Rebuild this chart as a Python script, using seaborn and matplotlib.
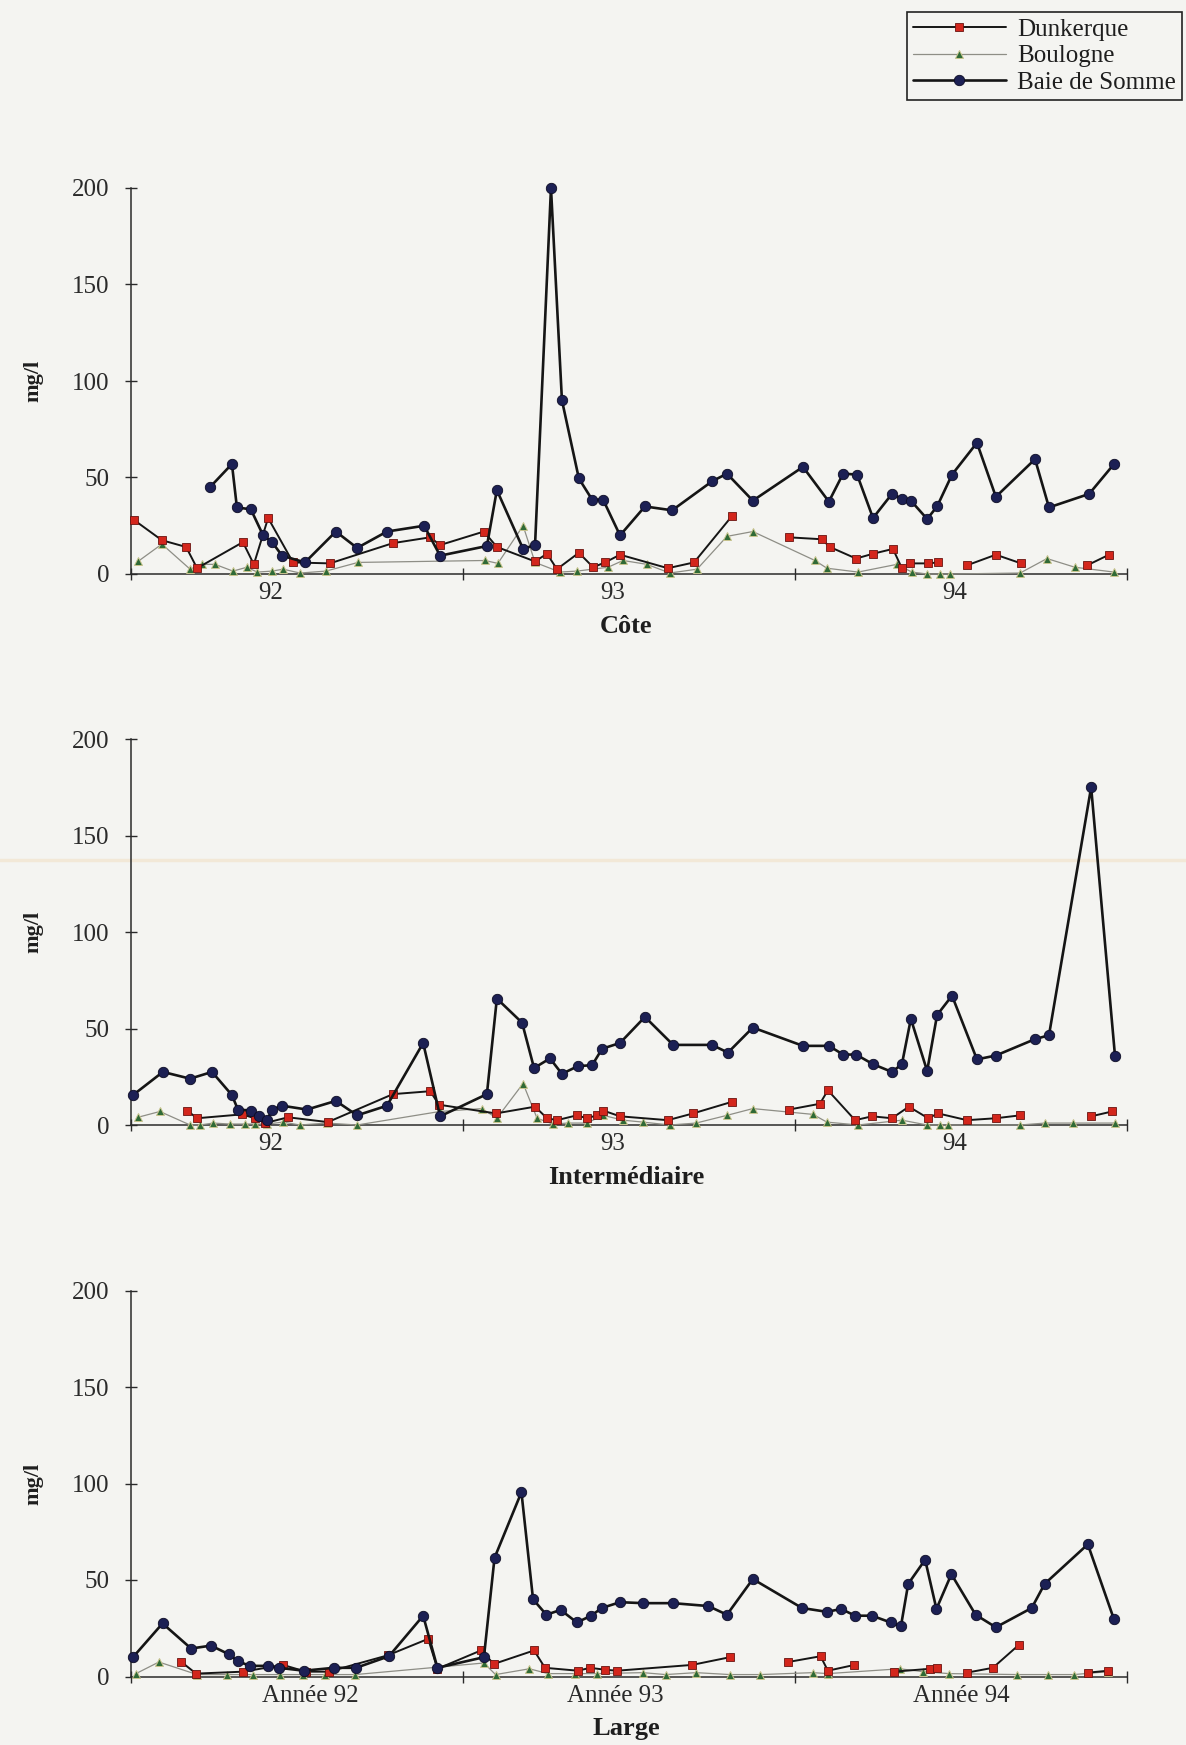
import numpy as np
import pandas as pd
import matplotlib
matplotlib.use("Agg")
import matplotlib.pyplot as plt
from matplotlib.lines import Line2D
import seaborn as sns

# ---------------------------------------------------------------------------
# Suspended matter (mg/l) — sampling dates as decimal years (92.5 = mid 1992)
# ---------------------------------------------------------------------------
SERIES_NAMES = ["Dunkerque", "Boulogne", "Baie de Somme"]
PANEL_TITLES = ["Côte", "Intermédiaire", "Large"]
YEAR_LABELS_SHORT = ["92", "93", "94"]
YEAR_LABELS_LONG = ["Année 92", "Année 93", "Année 94"]
Y_TICKS = [0, 50, 100, 150, 200]

# --- Côte ---
cote_baie_t = [92.238, 92.304, 92.319, 92.361, 92.398, 92.425, 92.455, 92.524, 92.617, 92.681,
               92.771, 92.883, 92.931, 93.072, 93.102, 93.181, 93.217, 93.265, 93.298, 93.349,
               93.389, 93.422, 93.473, 93.548, 93.630, 93.750, 93.795, 93.873, 94.024, 94.102,
               94.145, 94.187, 94.235, 94.292, 94.322, 94.349, 94.398, 94.428, 94.473, 94.548,
               94.605, 94.723, 94.765, 94.886, 94.961]
cote_baie_v = [45, 57, 34.5, 33.5, 20, 16.5, 9.5, 6, 22, 13.5,
               22, 25, 9.5, 14.5, 43.5, 13, 15, 200, 90, 49.5,
               38.5, 38.5, 20, 35, 33, 48, 52, 38, 55.5, 37.5,
               52, 51.5, 29, 41.5, 39, 38, 28.5, 35, 51.5, 68,
               40, 59.5, 34.5, 41.5, 57]

cote_dk_t = [92.009, 92.093, 92.166, 92.199, 92.337, 92.370, 92.413, 92.488, 92.599, 92.789,
             92.901, 92.931, 93.063, 93.102, 93.217, 93.253, 93.283, 93.349, 93.392, 93.428,
             93.473, 93.617, 93.696, 93.810, np.nan, 93.982, 94.081, 94.105, 94.184, 94.235,
             94.295, 94.322, 94.346, 94.401, 94.431, np.nan, 94.518, 94.605, 94.681, np.nan,
             94.880, 94.946]
cote_dk_v = [28, 17.5, 14, 3, 16.5, 5, 29, 6, 5.5, 16,
             19, 15, 22, 14, 6.5, 10.5, 2.5, 11, 3.5, 6,
             10, 3, 6, 30, np.nan, 19, 18, 14, 8, 10.5,
             13, 3, 5.5, 5.5, 6, np.nan, 4.5, 10, 5.5, np.nan,
             4.5, 10]

cote_boul_t = [92.021, 92.093, 92.178, 92.214, 92.253, 92.307, 92.349, 92.380, 92.425, 92.458,
               92.509, 92.587, 92.684, 93.066, 93.105, 93.181, 93.217, 93.292, 93.343, 93.437,
               93.482, 93.554, 93.623, 93.705, 93.795, 93.873, 94.060, 94.096, 94.190, 94.307,
               94.352, 94.398, 94.437, 94.467, 94.678, 94.759, 94.843, 94.961]
cote_boul_v = [6.5, 15.5, 2.5, 5, 5, 1.5, 3.5, 1, 1.5, 2.5,
               0.5, 1.5, 6, 7, 5.5, 25, 6, 1, 1.5, 3.5,
               7, 5, 0.5, 2.5, 19.5, 22, 7, 3, 1, 5,
               1, 0, 0, 0, 0.5, 8, 3.5, 1]

# --- Intermédiaire ---
inter_baie_t = [92.006, 92.096, 92.178, 92.244, 92.304, 92.322, 92.361, 92.386, 92.410, 92.425,
                92.455, 92.530, 92.617, 92.681, 92.771, 92.880, 92.931, 93.072, 93.102, 93.178,
                93.214, 93.262, 93.298, 93.346, 93.389, 93.419, 93.473, 93.548, 93.633, 93.750,
                93.798, 93.873, 94.024, 94.102, 94.145, 94.184, 94.235, 94.292, 94.322, 94.349,
                94.398, 94.428, 94.473, 94.548, 94.605, 94.723, 94.765, 94.892, 94.964]
inter_baie_v = [15.5, 27.5, 24, 27.5, 15.5, 8, 7.5, 4.5, 2.5, 8,
                10, 8, 12.5, 5, 10, 42.5, 4.5, 16, 65.5, 53,
                29.5, 34.5, 26.5, 30.5, 31, 39.5, 42.5, 56, 41.5, 41.5,
                37.5, 50.5, 41, 41, 36.5, 36.5, 31.5, 27.5, 31.5, 55,
                28, 57, 67, 34, 36, 44.5, 46.5, 175, 35.5]

inter_dk_t = [92.169, 92.199, 92.334, 92.373, 92.404, 92.473, 92.593, 92.789, 92.901, 92.928,
              93.099, 93.217, 93.253, 93.283, 93.343, 93.373, 93.404, 93.422, 93.473, 93.617,
              93.693, 93.810, np.nan, 93.982, 94.075, 94.099, 94.181, 94.232, 94.292, 94.343,
              94.401, 94.431, 94.518, 94.605, 94.678, np.nan, 94.892, 94.955]
inter_dk_v = [7.5, 3.5, 5.5, 3.5, 1, 4, 1.5, 16, 17.5, 10.5,
              6, 9.5, 3.5, 2.5, 5, 3.5, 5, 7.5, 4.5, 2.5,
              6, 12, np.nan, 8, 11, 18, 2.5, 4.5, 3.5, 9.5,
              3.5, 6, 2.5, 3.5, 5, np.nan, 4.5, 7]

inter_boul_t = [92.021, 92.087, 92.178, 92.208, 92.247, 92.298, 92.343, 92.373, 92.410, 92.458,
                92.509, 92.590, 92.681, 92.930, 93.057, 93.102, 93.181, 93.223, 93.271, 93.316,
                93.373, 93.422, 93.482, 93.542, 93.623, 93.702, 93.795, 93.873, 94.054, 94.096,
                94.190, 94.322, 94.398, 94.437, 94.461, 94.678, 94.753, 94.837, 94.964]
inter_boul_v = [4, 7, 0, 0, 1, 0.5, 0.5, 0.5, 0.5, 1.5,
                0, 1, 0, 7, 8.5, 3.5, 21.5, 3.5, 0.5, 1,
                1, 5, 2.5, 1.5, 0, 1, 5, 8.5, 5.5, 1.5,
                0, 2.5, 0, 0, 0, 0, 1, 1, 1]

# --- Large ---
large_baie_t = [92.006, 92.095, 92.181, 92.241, 92.295, 92.321, 92.358, 92.413, 92.446, 92.521,
                92.611, 92.678, 92.777, 92.880, 92.923, 93.063, 93.095, 93.176, 93.211, 93.251,
                93.294, 93.343, 93.386, 93.418, 93.473, 93.542, 93.633, 93.739, 93.795, 93.873,
                94.021, 94.096, 94.139, 94.181, 94.232, 94.288, 94.319, 94.341, 94.392, 94.426,
                94.471, 94.544, 94.605, 94.713, 94.752, 94.882, 94.960]
large_baie_v = [10, 27.5, 14.5, 16, 11.5, 8, 5.5, 5.5, 4.5, 3,
                4.5, 4.5, 10.5, 31.5, 4.5, 10, 61.5, 95.5, 40, 32,
                34.5, 28, 31.5, 35.5, 38.5, 38, 38, 36.5, 32, 50.5,
                35.5, 33.5, 35, 31.5, 31.5, 28, 26, 48, 60.5, 35,
                53, 32, 25.5, 35.5, 48, 68.5, 30]

large_dk_t = [92.152, 92.196, 92.337, 92.458, 92.527, 92.596, 92.774, 92.895, 92.923, 93.054,
              93.093, 93.214, 93.247, 93.346, 93.383, 93.428, 93.464, 93.690, 93.804, np.nan,
              93.979, 94.077, 94.099, 94.179, np.nan, 94.298, 94.407, 94.428, np.nan, 94.518,
              94.596, 94.675, np.nan, 94.883, 94.943]
large_dk_v = [7.5, 1.5, 2.5, 6, 2.5, 2.5, 11, 19.5, 4, 13.5,
              6.5, 13.5, 4.5, 3, 4.5, 3.5, 3, 6, 10, np.nan,
              7.5, 10.5, 3, 6, np.nan, 2.5, 4, 4.5, np.nan, 2,
              4.5, 16.5, np.nan, 2, 3]

large_boul_t = [92.015, 92.084, 92.199, 92.289, 92.367, 92.449, 92.518, 92.584, 92.676, 93.063,
                93.098, 93.200, 93.256, 93.337, 93.405, 93.542, 93.610, 93.702, 93.804, 93.895,
                94.054, 94.099, 94.316, 94.386, 94.464, 94.669, 94.762, 94.840, 94.943]
large_boul_v = [1.5, 7.5, 1, 1, 1, 1, 1, 1, 1, 7,
                1, 4, 1.5, 1.5, 1.5, 2, 1, 2, 1, 1,
                2, 1.5, 4, 2.5, 1.5, 1, 1, 1, 2.5]

# x positions of the year captions under each axis
year_label_pos_short = [92.42, 93.45, 94.48]
year_label_pos_long = [92.54, 93.46, 94.50]

# ---------------------------------------------------------------------------
# Styling
# ---------------------------------------------------------------------------
sns.set_theme(style="ticks")
plt.rcParams["font.family"] = ["Liberation Serif", "DejaVu Serif"]
plt.rcParams["text.color"] = "#1e1e1e"
plt.rcParams["axes.edgecolor"] = "#2a2a2a"
plt.rcParams["xtick.color"] = "#2a2a2a"
plt.rcParams["ytick.color"] = "#2a2a2a"

BG = "#f4f4f1"
STYLE = {
    "Dunkerque": dict(color="#151515", linewidth=1.4, marker="s", markersize=6.4,
                      markerfacecolor="#d3261c", markeredgecolor="#6a1410",
                      markeredgewidth=0.6, zorder=4),
    "Boulogne": dict(color="#8e8e86", linewidth=0.9, marker="^", markersize=6.2,
                     markerfacecolor="#2f6a36", markeredgecolor="#c9c48e",
                     markeredgewidth=0.7, zorder=3),
    "Baie de Somme": dict(color="#151515", linewidth=1.9, marker="o", markersize=7.5,
                          markerfacecolor="#1c2054", markeredgecolor="#0c0c24",
                          markeredgewidth=0.6, zorder=5),
}

W, H = 1186, 1745
fig = plt.figure(figsize=(W / 100, H / 100), dpi=100)
fig.patch.set_facecolor(BG)

left, width = 131 / W, 996 / W
bottoms_px = [574, 1125, 1676.5]
height = 386 / H


def draw_series(ax, t, v, name):
    df = pd.DataFrame({"t": t, "v": v})
    df["seg"] = df["v"].isna().cumsum()
    df = df.dropna()
    st = STYLE[name]
    sns.lineplot(data=df, x="t", y="v", units="seg", estimator=None, sort=False,
                 ax=ax, legend=False, clip_on=False, **st)


panels = [
    (cote_dk_t, cote_dk_v, cote_boul_t, cote_boul_v, cote_baie_t, cote_baie_v),
    (inter_dk_t, inter_dk_v, inter_boul_t, inter_boul_v, inter_baie_t, inter_baie_v),
    (large_dk_t, large_dk_v, large_boul_t, large_boul_v, large_baie_t, large_baie_v),
]

for i, (dk_t, dk_v, bo_t, bo_v, bs_t, bs_v) in enumerate(panels):
    ax = fig.add_axes([left, 1 - bottoms_px[i] / H, width, height])
    ax.set_facecolor("none")

    draw_series(ax, bo_t, bo_v, "Boulogne")
    draw_series(ax, dk_t, dk_v, "Dunkerque")
    draw_series(ax, bs_t, bs_v, "Baie de Somme")

    ax.set_xlim(92, 95)
    ax.set_ylim(0, 200)
    for side in ("top", "right"):
        ax.spines[side].set_visible(False)
    for side in ("left", "bottom"):
        ax.spines[side].set_linewidth(1.1)

    ax.set_yticks(Y_TICKS)
    ax.set_yticklabels([str(y) for y in Y_TICKS])
    ax.tick_params(axis="y", direction="inout", length=9, width=1.0,
                   labelsize=18, pad=11)

    if i < 2:
        ax.set_xticks(year_label_pos_short)
        ax.set_xticklabels(YEAR_LABELS_SHORT)
    else:
        ax.set_xticks(year_label_pos_long)
        ax.set_xticklabels(YEAR_LABELS_LONG)
    ax.set_xticks([92, 93, 94, 95], minor=True)
    ax.tick_params(axis="x", which="major", length=0, labelsize=18, pad=6)
    ax.tick_params(axis="x", which="minor", direction="inout", length=8, width=1.0)

    ax.set_xlabel("")
    ax.set_ylabel("")
    ax.text(0.497, -0.135, PANEL_TITLES[i], transform=ax.transAxes,
            ha="center", va="center", fontsize=19, fontweight="bold")
    ax.text(-0.098, 0.5, "mg/l", transform=ax.transAxes, rotation=90,
            ha="center", va="center", fontsize=16, fontweight="bold")

# legend box at the top right
handles = [Line2D([], [], **{k: val for k, val in STYLE[n].items() if k != "zorder"})
           for n in SERIES_NAMES]
leg = fig.legend(handles, SERIES_NAMES, loc="upper right",
                 bbox_to_anchor=(1182 / W, 1 - 12 / H), frameon=True, fancybox=False,
                 edgecolor="#222222", facecolor=BG, framealpha=1, fontsize=18,
                 handlelength=3.7, handletextpad=0.45, labelspacing=0.16,
                 borderpad=0.25, borderaxespad=0)
leg.get_frame().set_linewidth(1.2)

# faint tinted streak across the sheet
fig.add_artist(Line2D([0, 1], [1 - 860 / H] * 2, transform=fig.transFigure,
                      color="#f1d6b2", linewidth=2.5, alpha=0.4, zorder=0))

fig.savefig("out.png", dpi=100, facecolor=BG)
